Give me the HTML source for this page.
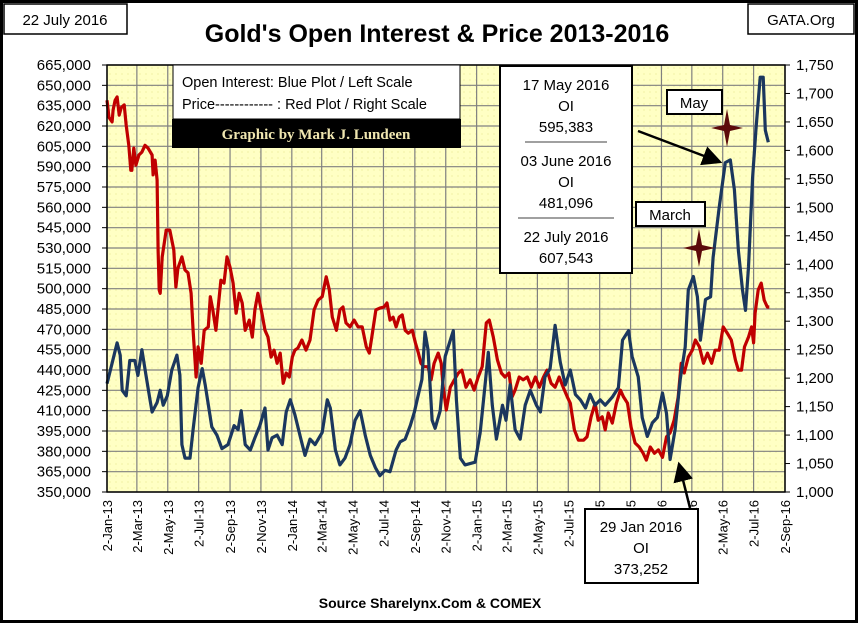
<!DOCTYPE html>
<html><head><meta charset="utf-8"><style>
html,body{margin:0;padding:0;background:#fff}
svg{display:block}
text{font-family:"Liberation Sans",sans-serif}
</style></head><body>
<svg id="chart" width="858" height="623" viewBox="0 0 858 623" xmlns="http://www.w3.org/2000/svg">
<defs>
<pattern id="dots" width="6" height="6" patternUnits="userSpaceOnUse"><rect width="6" height="6" fill="#FFFFC4"/><circle cx="2" cy="2" r="0.6" fill="#E8E890"/></pattern>
<marker id="ah" markerWidth="8" markerHeight="8" refX="7" refY="4" orient="auto"><path d="M0,0 L8,4 L0,8 z" fill="#000"/></marker>
</defs>
<rect x="1.5" y="1.5" width="855" height="620" fill="#fff" stroke="#000" stroke-width="3"/>
<g><rect x="4" y="4" width="123" height="30" fill="#fff" stroke="#000" stroke-width="1.5"/><text x="65" y="25" font-size="15" text-anchor="middle">22 July 2016</text></g>
<g><rect x="748" y="4" width="106" height="30" fill="#fff" stroke="#000" stroke-width="1.5"/><text x="801" y="25" font-size="15" text-anchor="middle">GATA.Org</text></g>
<text x="437" y="42" font-size="25" font-weight="bold" text-anchor="middle">Gold's Open Interest &amp; Price 2013-2016</text>
<rect x="107" y="65" width="678" height="427" fill="url(#dots)"/>
<g id="grid"></g>
<g id="axes"></g>
<g id="series"></g>
<rect x="107" y="65" width="678" height="427" fill="none" stroke="#000" stroke-width="1.5"/>
<g>
<rect x="173" y="65" width="287" height="54" fill="#fff" stroke="#000" stroke-width="1"/>
<text x="182" y="87" font-size="14.5">Open Interest:  Blue Plot / Left Scale</text>
<text x="182" y="109" font-size="14.5">Price------------ : Red Plot / Right Scale</text>
<rect x="172" y="119" width="289" height="29" fill="#000"/>
<text x="316" y="139" font-size="15" font-weight="bold" font-family="Liberation Serif,serif" fill="#F0E6B0" text-anchor="middle" style="font-family:'Liberation Serif',serif">Graphic by Mark J. Lundeen</text>
</g>
<g font-size="15" text-anchor="middle">
<rect x="500" y="66" width="132" height="207" fill="#fff" stroke="#000" stroke-width="2"/>
<text x="566" y="90">17 May 2016</text><text x="566" y="111">OI</text><text x="566" y="132">595,383</text>
<line x1="525" y1="142" x2="607" y2="142" stroke="#000" stroke-width="0.7"/>
<text x="566" y="166">03 June 2016</text><text x="566" y="187">OI</text><text x="566" y="208">481,096</text>
<line x1="518" y1="218" x2="614" y2="218" stroke="#000" stroke-width="0.7"/>
<text x="566" y="242">22 July 2016</text><text x="566" y="263">607,543</text>
</g>
<line x1="638" y1="131" x2="720" y2="162" stroke="#000" stroke-width="2.5" marker-end="url(#ah)"/>
<g><rect x="667" y="90" width="55" height="24" fill="#fff" stroke="#000" stroke-width="2"/><text x="694" y="108" font-size="15" text-anchor="middle">May</text></g>
<g><rect x="636" y="202" width="69" height="24" fill="#fff" stroke="#000" stroke-width="2"/><text x="670" y="220" font-size="15" text-anchor="middle">March</text></g>
<path d="M727,109 L730,125 L743,128 L730,131 L727,147 L724,131 L711,128 L724,125 Z" fill="#5C0A0A"/>
<path d="M699,229 L702,245 L715,248 L702,251 L699,267 L696,251 L683,248 L696,245 Z" fill="#5C0A0A"/>
<line x1="690" y1="508" x2="679" y2="464" stroke="#000" stroke-width="2.5" marker-end="url(#ah)"/>
<g font-size="15" text-anchor="middle">
<rect x="585" y="509" width="113" height="74" fill="#fff" stroke="#000" stroke-width="2"/>
<text x="641" y="532">29 Jan 2016</text><text x="641" y="553">OI</text><text x="641" y="574">373,252</text>
</g>
<text x="430" y="608" font-size="14" font-weight="bold" text-anchor="middle">Source Sharelynx.Com &amp; COMEX</text>
</svg>
<script>
const xTickLabels=["2-Jan-13","2-Mar-13","2-May-13","2-Jul-13","2-Sep-13","2-Nov-13","2-Jan-14","2-Mar-14","2-May-14","2-Jul-14","2-Sep-14","2-Nov-14","2-Jan-15","2-Mar-15","2-May-15","2-Jul-15","2-Sep-15","2-Nov-15","2-Jan-16","2-Mar-16","2-May-16","2-Jul-16","2-Sep-16"];
const xTickDays=[0,59,120,181,243,304,365,424,485,546,608,669,730,789,850,911,973,1034,1095,1155,1216,1277,1339];
const leftTicks=[350000,365000,380000,395000,410000,425000,440000,455000,470000,485000,500000,515000,530000,545000,560000,575000,590000,605000,620000,635000,650000,665000];
const rightTicks=[1000,1050,1100,1150,1200,1250,1300,1350,1400,1450,1500,1550,1600,1650,1700,1750];
const oiDays=[0,10,20,26,30,38,45,55,61,69,77,85,89,99,105,111,119,128,138,144,148,154,164,170,180,188,194,207,217,227,239,251,259,265,273,283,292,302,312,318,326,336,346,354,362,371,381,391,401,411,425,435,441,451,460,470,480,490,500,510,520,530,539,549,559,571,579,589,599,607,615,622,628,634,642,648,658,668,684,690,698,707,727,737,747,753,761,769,781,788,796,806,816,826,836,848,856,865,875,885,895,905,915,925,935,945,954,964,974,984,998,1010,1018,1030,1037,1049,1057,1067,1077,1087,1097,1105,1112,1122,1132,1142,1148,1158,1166,1172,1182,1192,1197,1209,1221,1231,1239,1247,1255,1261,1267,1275,1282,1290,1296,1300,1306];
const oiValues=[430,445,460,451,425,421,447,447,436,455,436,418,409,416,425,414,421,440,451,436,385,375,375,396,427,441,429,398,392,382,385,399,396,410,385,381,390,399,412,381,390,392,385,409,418,407,392,377,389,385,394,418,412,381,370,375,385,403,410,392,377,368,362,366,365,381,387,389,399,409,422,433,468,455,403,397,410,450,469,418,375,370,372,394,430,453,414,389,414,403,429,396,389,414,425,414,409,435,441,473,446,429,440,422,418,412,422,414,418,414,420,427,462,469,450,435,405,391,401,405,423,408,374,396,433,457,499,509,494,462,492,494,523,560,593,595,573,528,499,484,516,582,619,656,656,617,608];
const priceDays=[0,4,10,12,16,20,24,28,34,38,43,47,49,53,57,63,69,75,81,89,91,95,99,101,103,105,109,117,124,132,136,140,148,154,160,166,170,176,180,186,192,200,204,209,215,221,225,231,237,243,249,255,261,267,273,281,287,292,298,306,312,318,324,330,336,342,348,354,360,366,371,377,385,393,401,409,417,425,433,439,445,453,460,466,472,480,488,496,504,512,518,523,531,539,547,553,559,565,571,577,583,589,595,603,609,615,620,626,634,640,646,654,660,664,670,678,686,694,701,709,717,725,733,741,749,755,763,771,779,786,794,800,806,814,822,830,838,846,854,862,869,877,885,893,901,909,915,923,931,941,948,956,964,970,978,984,990,998,1006,1014,1020,1028,1035,1043,1051,1059,1065,1073,1081,1089,1097,1105,1112,1120,1128,1134,1140,1148,1156,1162,1170,1178,1186,1194,1201,1209,1217,1225,1233,1241,1247,1253,1259,1267,1273,1277,1280,1286,1292,1298,1304,1308];
const priceValues=[1688,1658,1650,1671,1688,1694,1662,1675,1680,1644,1609,1565,1565,1604,1574,1592,1597,1609,1604,1592,1557,1583,1548,1425,1355,1349,1413,1460,1460,1425,1360,1393,1413,1390,1385,1349,1284,1202,1255,1226,1284,1290,1343,1320,1284,1337,1372,1367,1413,1395,1367,1314,1349,1332,1284,1302,1272,1320,1349,1314,1284,1272,1237,1249,1226,1244,1191,1209,1202,1237,1249,1253,1267,1249,1267,1320,1337,1343,1378,1355,1307,1284,1320,1325,1297,1290,1302,1290,1290,1255,1244,1272,1320,1323,1325,1332,1302,1307,1290,1307,1311,1284,1279,1284,1262,1244,1226,1220,1220,1197,1226,1244,1226,1184,1144,1184,1197,1209,1214,1184,1197,1179,1202,1220,1297,1302,1272,1232,1209,1202,1209,1167,1179,1202,1197,1202,1184,1202,1184,1202,1214,1191,1184,1202,1184,1167,1156,1109,1091,1091,1097,1132,1156,1126,1132,1109,1139,1121,1156,1179,1167,1156,1114,1086,1079,1068,1056,1079,1068,1074,1061,1097,1104,1126,1167,1226,1209,1237,1249,1267,1255,1226,1244,1226,1249,1249,1290,1279,1267,1232,1214,1214,1255,1272,1290,1262,1314,1355,1367,1337,1325,1325];

const X0=107,X1=785,Y0=65,Y1=492;
const xScale=d=>X0+(d-xTickDays[0])/(xTickDays[xTickDays.length-1]-xTickDays[0])*(X1-X0);
const yL=v=>Y1-(v-leftTicks[0])/(leftTicks[leftTicks.length-1]-leftTicks[0])*(Y1-Y0);
const yR=v=>Y1-(v-rightTicks[0])/(rightTicks[rightTicks.length-1]-rightTicks[0])*(Y1-Y0);
const NS="http://www.w3.org/2000/svg";
const grid=document.getElementById('grid'),axes=document.getElementById('axes'),series=document.getElementById('series');
function mk(tag,attrs,parent){const e=document.createElementNS(NS,tag);for(const k in attrs)e.setAttribute(k,attrs[k]);parent.appendChild(e);return e;}
const fmt=n=>n.toLocaleString('en-US');
leftTicks.forEach(v=>{const y=yL(v);
 const g=mk('line',{x1:X0,x2:X1,y1:y,y2:y,stroke:'#808080','stroke-width':1.2},grid);
 
 
 mk('line',{x1:X0-5,x2:X0,y1:y,y2:y,stroke:'#000'},axes);
 const t=mk('text',{x:91,y:y+5,'font-size':15,'text-anchor':'end'},axes);t.textContent=fmt(v);
 
 
});
rightTicks.forEach(v=>{const y=yR(v);
 mk('line',{x1:X1,x2:X1+5,y1:y,y2:y,stroke:'#000'},axes);
 const t=mk('text',{x:796,y:y+5,'font-size':15},axes);t.textContent=fmt(v);
 
 
});
xTickDays.forEach((d,i)=>{const x=xScale(d);
 const g=mk('line',{x1:x,x2:x,y1:Y0,y2:Y1,stroke:'#808080','stroke-width':1.2},grid);
 
 
 const t=mk('text',{x:0,y:0,'font-size':13,'text-anchor':'end',transform:`translate(${x+5},${Y1+8}) rotate(-90)`},axes);
 t.textContent=xTickLabels[i];
 
 
});
const pricePath=mk('polyline',{points:priceDays.map((d,i)=>xScale(d).toFixed(1)+','+yR(priceValues[i]).toFixed(1)).join(' '),fill:'none',stroke:'#C00000','stroke-width':3.2,'stroke-linejoin':'round'},series);


const oiPath=mk('polyline',{points:oiDays.map((d,i)=>xScale(d).toFixed(1)+','+yL(oiValues[i]*1000).toFixed(1)).join(' '),fill:'none',stroke:'#1B375E','stroke-width':3.2,'stroke-linejoin':'round'},series);


</script>
</body></html>
